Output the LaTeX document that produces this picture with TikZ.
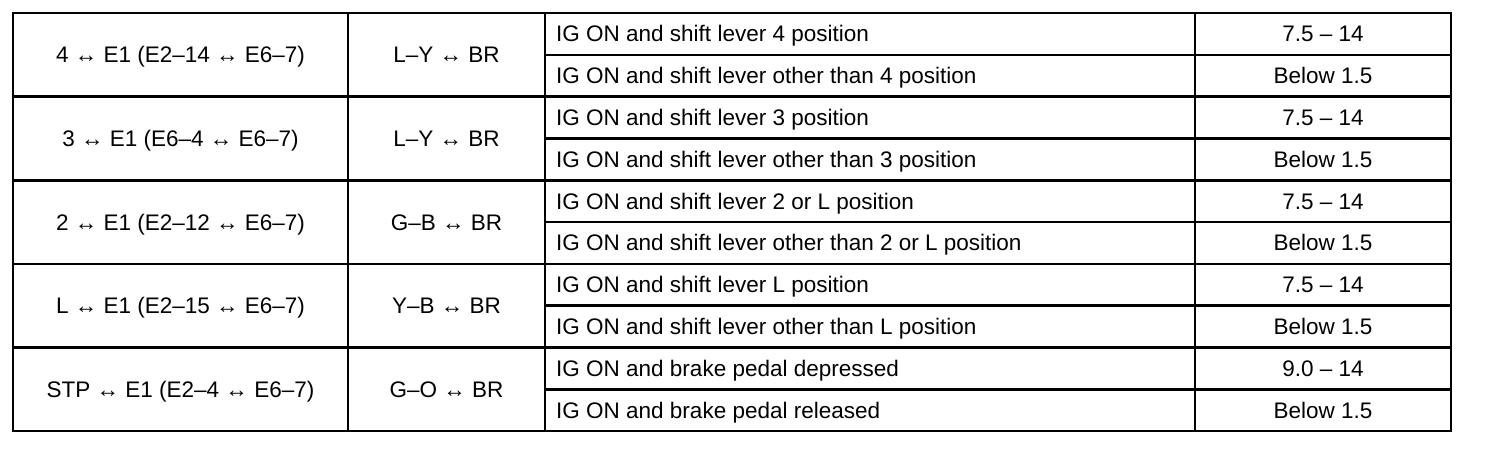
\documentclass[tikz,border=0pt]{standalone}
\usepackage{fontspec}
\setmainfont{Liberation Sans}
\begin{document}
\begin{tikzpicture}[x=1pt,y=-1pt,
  grid/.style={line width=2.6pt,line cap=rect},
  cell/.style={anchor=base,inner sep=0pt,font=\fontsize{22.5}{26}\selectfont},
  lcell/.style={cell,anchor=base west}]
\useasboundingbox (0,0) rectangle (1504,456);
\def\T{13}\def\R{41.8}
% columns
\def\ca{13}\def\cb{348}\def\cc{545}\def\cd{1195}\def\ce{1451}
% outer frame
\draw[grid] (\ca,\T) rectangle (\ce,{\T+10*\R});
\foreach \x in {\cb,\cc,\cd} \draw[grid] (\x,\T) -- (\x,{\T+10*\R});
\foreach \k in {2,4,6,8} \draw[grid] (\ca,{\T+\k*\R}) -- (\ce,{\T+\k*\R});
\foreach \k in {1,3,5,7,9} \draw[grid] (\cc,{\T+\k*\R}) -- (\ce,{\T+\k*\R});
% group texts
\foreach \g/\a/\b [count=\i from 0] in {%
  {4 ↔ E1 (E2–14 ↔ E6–7)}/{L–Y ↔ BR},
  {3 ↔ E1 (E6–4 ↔ E6–7)}/{L–Y ↔ BR},
  {2 ↔ E1 (E2–12 ↔ E6–7)}/{G–B ↔ BR},
  {L ↔ E1 (E2–15 ↔ E6–7)}/{Y–B ↔ BR},
  {STP ↔ E1 (E2–4 ↔ E6–7)}/{G–O ↔ BR}} {
  \node[cell] (t\i) at ({(\ca+\cb)/2},{\T+(2*\i+1)*\R+8}) {\g};
  \node[cell] (w\i) at ({(\cb+\cc)/2},{\T+(2*\i+1)*\R+8}) {\a};
}
% conditions
\foreach \c/\v [count=\i from 0] in {%
  {IG ON and shift lever 4 position}/{7.5 – 14},
  {IG ON and shift lever other than 4 position}/{Below 1.5},
  {IG ON and shift lever 3 position}/{7.5 – 14},
  {IG ON and shift lever other than 3 position}/{Below 1.5},
  {IG ON and shift lever 2 or L position}/{7.5 – 14},
  {IG ON and shift lever other than 2 or L position}/{Below 1.5},
  {IG ON and shift lever L position}/{7.5 – 14},
  {IG ON and shift lever other than L position}/{Below 1.5},
  {IG ON and brake pedal depressed}/{9.0 – 14},
  {IG ON and brake pedal released}/{Below 1.5}} {
  \node[lcell] (c\i) at ({\cc+11},{\T+(\i+0.5)*\R+8}) {\c};
  \node[cell] (v\i) at ({(\cd+\ce)/2},{\T+(\i+0.5)*\R+8}) {\v};
}
\end{tikzpicture}
\end{document}
